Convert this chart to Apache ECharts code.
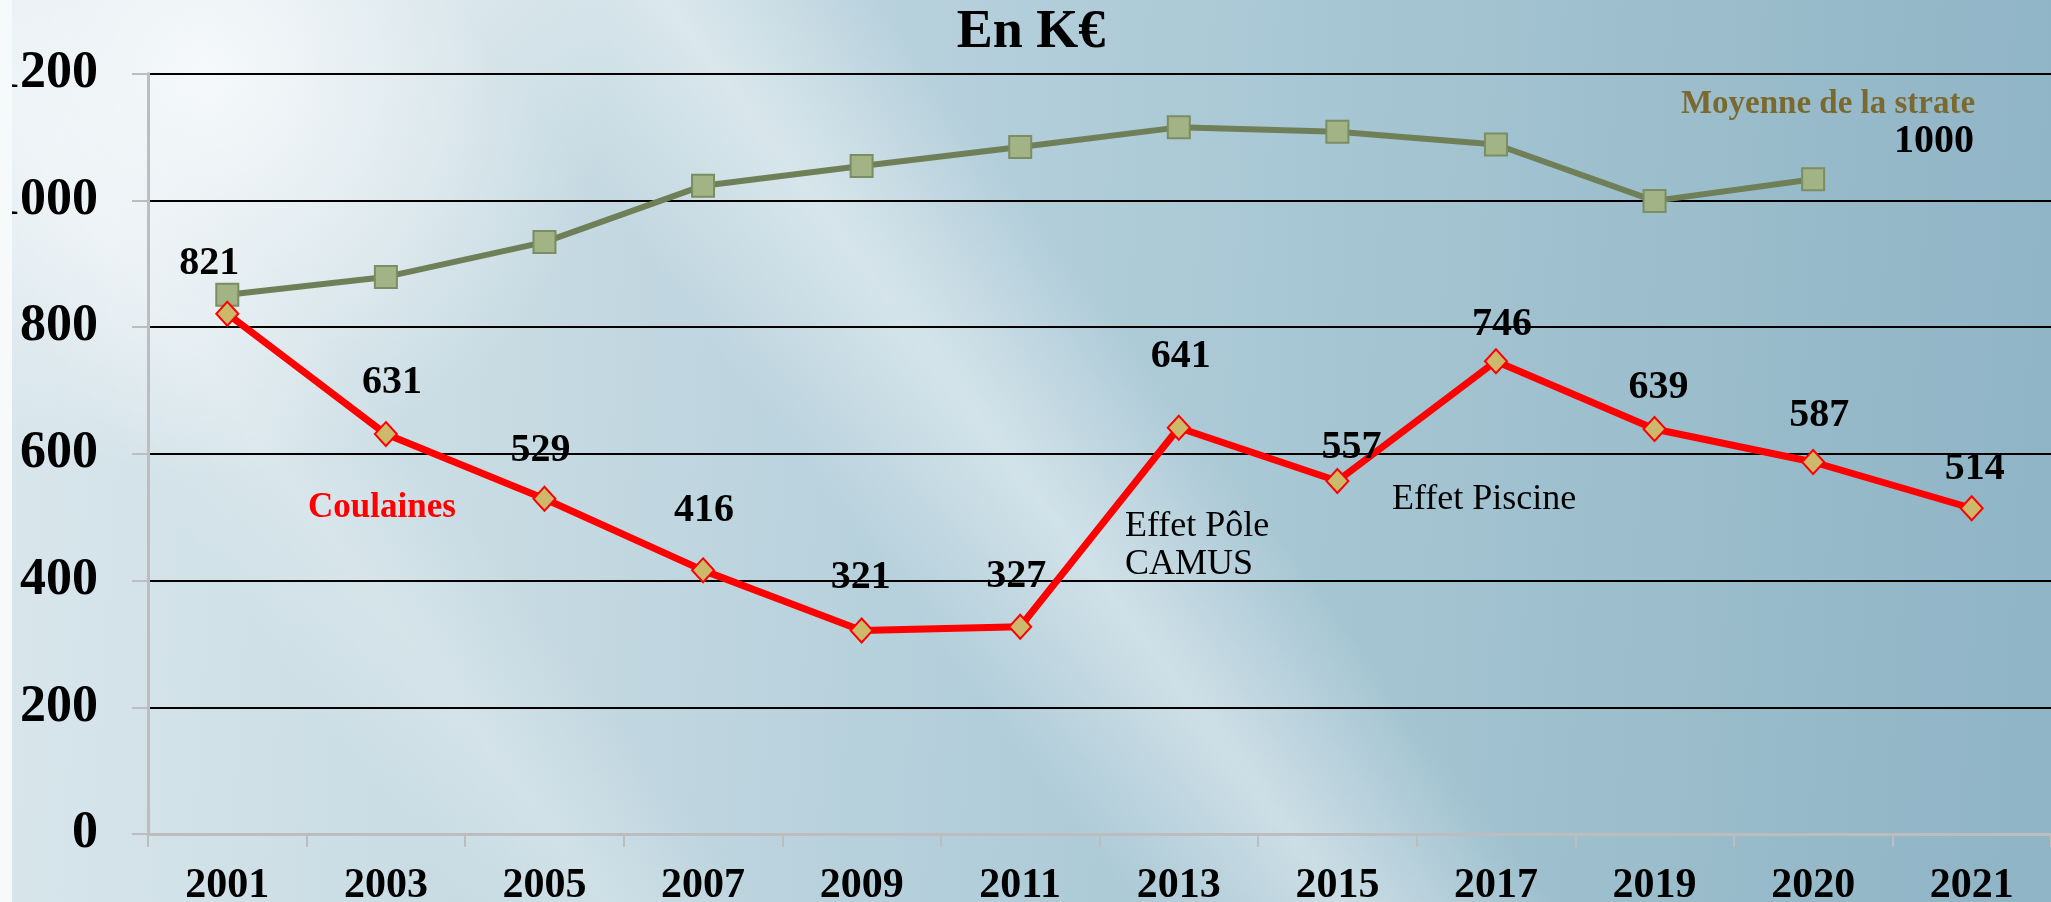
<!DOCTYPE html>
<html>
<head>
<meta charset="utf-8">
<script src="https://cdn.jsdelivr.net/npm/echarts@6/dist/echarts.min.js"></script>
<style>
  html, body { margin: 0; padding: 0; background: #ffffff; }
  #chart { width: 2051px; height: 902px; }
</style>
</head>
<body>
<div id="chart"></div>
<script>
// ---- data ----
const years = ['2001', '2003', '2005', '2007', '2009', '2011', '2013', '2015', '2017', '2019', '2020', '2021'];
const coulaines = [821, 631, 529, 416, 321, 327, 641, 557, 746, 639, 587, 514];
const strate = [851, 879, 934, 1023, 1054, 1084, 1115, 1108, 1088, 999, 1033, null];
const yMin = 0;
const yMax = 1200;
const yStep = 200;
const titleText = 'En K€';
const coulainesName = 'Coulaines';
const strateName = 'Moyenne de la strate';
const strateNote = '1000';
const noteCamus = ['Effet Pôle', 'CAMUS'];
const notePiscine = 'Effet Piscine';

// ---- style / layout (not data) ----
const SERIF = '"Liberation Serif", "Times New Roman", serif';
const labelNudge = [[-18, -1], [6, -2], [-4, 1], [1, -11], [-1, -4], [-4, -1], [2, -22], [14, 16], [6, 12], [4, 8], [6, 3], [3, 9]];

const chart = echarts.init(document.getElementById('chart'), null, { renderer: 'canvas' });

const coulainesData = coulaines.map((v, i) => ({
  value: v,
  label: { offset: labelNudge[i] }
}));

function txt(text, x, y, size, weight, color, align) {
  return {
    type: 'text', x: x, y: y, silent: true, z: 50,
    style: {
      text: text, fill: color,
      font: weight + ' ' + size + 'px ' + SERIF,
      textAlign: align, textVerticalAlign: 'middle',
      align: align, verticalAlign: 'middle'
    }
  };
}

function band(cx, cy, nx, ny, half, alpha) {
  // soft diagonal light band (n = unit vector across the band)
  return {
    type: 'rect', z: -19, silent: true,
    shape: { x: 0, y: 0, width: 2051, height: 902 },
    style: {
      fill: new echarts.graphic.LinearGradient(
        cx - half * nx, cy - half * ny, cx + half * nx, cy + half * ny, [
          { offset: 0, color: 'rgba(255,255,255,0)' },
          { offset: 0.5, color: 'rgba(255,255,255,' + alpha + ')' },
          { offset: 1, color: 'rgba(255,255,255,0)' }
        ], true)
    }
  };
}

const option = {
  animation: false,
  backgroundColor: '#b6cfd9',
  graphic: [
    {
      type: 'rect', z: -20, silent: true,
      shape: { x: 0, y: 0, width: 2051, height: 902 },
      style: {
        fill: new echarts.graphic.LinearGradient(0, 0, 1, 0.15, [
          { offset: 0, color: '#dae7ed' },
          { offset: 0.25, color: '#c8dbe3' },
          { offset: 0.5, color: '#b2ceda' },
          { offset: 0.75, color: '#a0c1cf' },
          { offset: 1, color: '#90b5c6' }
        ])
      }
    },
    {
      type: 'rect', z: -19, silent: true,
      shape: { x: 0, y: 0, width: 2051, height: 902 },
      style: {
        fill: new echarts.graphic.RadialGradient(0.1, 0.08, 0.45, [
          { offset: 0, color: 'rgba(255,255,255,0.8)' },
          { offset: 0.6, color: 'rgba(255,255,255,0.35)' },
          { offset: 1, color: 'rgba(255,255,255,0)' }
        ])
      }
    },
    band(950, 380, 0.8, -0.6, 170, 0.42),
    band(380, 600, 0.8, -0.6, 120, 0.22),
    {
      type: 'rect', z: 100, silent: true,
      shape: { x: 0, y: 0, width: 12, height: 902 },
      style: { fill: '#f7fafb' }
    },
    txt(titleText, 1031, 33, 54, 'bold', '#000000', 'center'),
    txt(coulainesName, 382, 508, 35, 'bold', '#ff0000', 'center'),
    txt(strateName, 1828, 104, 33, 'bold', '#7a6a30', 'center'),
    txt(strateNote, 1934, 142, 40, 'bold', '#000000', 'center'),
    txt(noteCamus[0], 1125, 527, 36, 'normal', '#000000', 'left'),
    txt(noteCamus[1], 1125, 565, 36, 'normal', '#000000', 'left'),
    txt(notePiscine, 1392, 500, 36, 'normal', '#000000', 'left')
  ],
  grid: { left: 148, right: 0, top: 73.5, bottom: 68, containLabel: false, outerBoundsMode: 'none' },
  xAxis: {
    type: 'category',
    data: years,
    boundaryGap: true,
    axisLine: { show: true, lineStyle: { color: '#bdbdbd', width: 3 } },
    axisTick: { show: true, length: 13, lineStyle: { color: '#bdbdbd', width: 2 } },
    axisLabel: { margin: 31, color: '#000', fontFamily: SERIF, fontWeight: 'bold', fontSize: 42 },
    splitLine: { show: false }
  },
  yAxis: {
    type: 'value',
    min: yMin, max: yMax, interval: yStep,
    axisLine: { show: true, lineStyle: { color: '#bdbdbd', width: 3 } },
    axisTick: { show: true, length: 16, lineStyle: { color: '#bdbdbd', width: 2 } },
    axisLabel: {
      margin: 50, color: '#000', fontFamily: SERIF, fontWeight: 'bold', fontSize: 52,
      formatter: v => String(v)
    },
    splitLine: { show: true, lineStyle: { color: ['rgba(0,0,0,0)', '#000', '#000', '#000', '#000', '#000', '#000'], width: 2 } }
  },
  series: [
    {
      name: strateName,
      type: 'line',
      data: strate,
      z: 3,
      symbol: 'rect',
      symbolSize: 22,
      showAllSymbol: true,
      lineStyle: { color: '#6f8059', width: 6 },
      itemStyle: { color: '#a2b486', borderColor: '#7b8d62', borderWidth: 2 },
      label: { show: false }
    },
    {
      name: coulainesName,
      type: 'line',
      data: coulainesData,
      z: 4,
      symbol: 'diamond',
      symbolSize: [22, 24],
      showAllSymbol: true,
      lineStyle: { color: '#ff0000', width: 7 },
      itemStyle: { color: '#cdb96b', borderColor: '#ff0000', borderWidth: 2 },
      label: {
        show: true, position: 'top', distance: 16,
        color: '#000', fontFamily: SERIF, fontWeight: 'bold', fontSize: 40
      }
    }
  ]
};

chart.setOption(option);
</script>
</body>
</html>
